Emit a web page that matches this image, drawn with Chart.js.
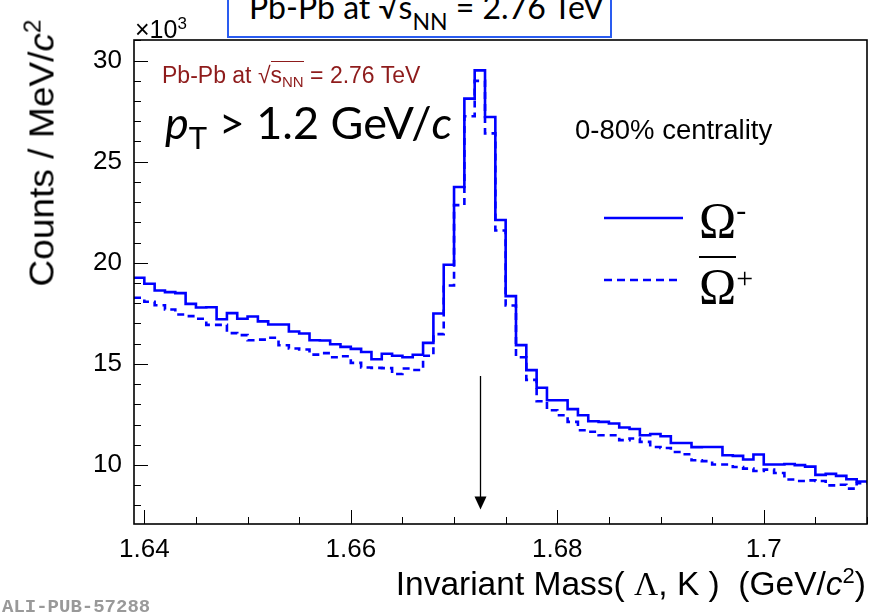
<!DOCTYPE html>
<html>
<head>
<meta charset="utf-8">
<script src="https://cdn.jsdelivr.net/npm/chart.js@4.4.1/dist/chart.umd.min.js"></script>
<style>
  body { margin: 0; background: #fff; }
  #wrap { position: relative; width: 877px; height: 612px; overflow: hidden; }
  #c { position: absolute; left: 0; top: 0; }
  .t { position: absolute; white-space: nowrap; line-height: 1; }
  .arial { font-family: "Liberation Sans", Arial, sans-serif; }
  .serif { font-family: "Liberation Serif", "Times New Roman", serif; }
  .lato { font-family: Lato, "Open Sans", sans-serif; }
</style>
</head>
<body>
<div id="wrap">
  <canvas id="c" width="877" height="612"></canvas>

  <!-- header box, cut at the top of the picture -->
  <div class="t lato" style="left:227px; top:-20px; width:381px; height:54px; border:2px solid #2a5cf0; background:#fff; overflow:hidden;">
    <span style="position:absolute; left:20px; top:9px; font-size:32px; color:#000;">Pb-Pb at √s<sub style="font-size:23px; vertical-align:-11px;">NN</sub> = 2.76 TeV</span>
  </div>

  <div class="t arial" style="left:135px; top:15px; font-size:25px;">×10<sup style="font-size:17px; vertical-align:9px;">3</sup></div>

  <div class="t arial" style="left:162px; top:64px; font-size:23px; color:#8e1b1b;">Pb-Pb at √<span style="border-top:1.5px solid #8e1b1b;">s<sub style="font-size:15px; vertical-align:-4px;">NN</sub></span> = 2.76 TeV</div>

  <div class="t lato" style="left:165px; top:100px; font-size:45px;"><i>p</i><sub style="font-size:31px; vertical-align:-10px;">T</sub> &gt; 1.2 GeV/<i>c</i></div>

  <div class="t arial" style="left:575px; top:116px; font-size:27.5px;">0-80% centrality</div>

  <!-- legend -->
  <svg class="t" style="left:600px; top:205px;" width="90" height="90">
    <line x1="4" y1="13" x2="83" y2="13" stroke="#0000ff" stroke-width="2.5"/>
    <line x1="4" y1="75" x2="77" y2="75" stroke="#0000ff" stroke-width="2.5" stroke-dasharray="8 5"/>
  </svg>
  <div class="t serif" style="left:699px; top:195px; font-size:50px;">Ω<sup style="font-size:30px; vertical-align:17px;">-</sup></div>
  <div class="t serif" style="left:699px; top:261px; font-size:50px;"><span style="border-top:2px solid #000;">Ω</span><sup style="font-size:30px; vertical-align:15px;">+</sup></div>

  <div class="t arial" style="left:40px; top:153px; font-size:35px; transform:translate(-50%,-50%) rotate(-90deg) scaleX(1.06); transform-origin:50% 50%;">Counts / MeV/<i>c</i><sup style="font-size:23px; vertical-align:13px;">2</sup></div>

  <div class="t arial" style="right:11px; top:565px; font-size:33.5px;">Invariant Mass( <span class="serif">Λ</span>, K )&nbsp; (GeV/<i>c</i><sup style="font-size:22px; vertical-align:12px;">2</sup>)</div>

  <div class="t" style="left:2px; top:598px; font-size:19px; font-weight:bold; color:#999; font-family:'Liberation Mono', 'DejaVu Sans Mono', monospace;">ALI-PUB-57288</div>
</div>

<script>
// invariant mass axis (GeV/c^2), 1 MeV bins
const massMin = 1.639;
const massMax = 1.710;
const binWidth = 0.001;

// counts per MeV/c^2, in units of 10^3
const omegaMinus = [
  19.26, 18.96, 18.63, 18.55, 18.50, 17.97, 17.79, 17.80, 17.21, 17.51,
  17.23, 17.34, 17.10, 16.95, 16.95, 16.60, 16.50, 16.17, 16.16, 15.97,
  15.84, 15.74, 15.59, 15.23, 15.50, 15.40, 15.33, 15.45, 16.04, 17.49,
  19.90, 23.75, 28.12, 29.52, 27.21, 22.12, 18.35, 15.93, 14.69, 13.82,
  13.20, 13.20, 12.76, 12.46, 12.16, 12.13, 12.05, 11.85, 11.78, 11.47,
  11.53, 11.42, 11.09, 11.09, 10.88, 10.89, 10.89, 10.48, 10.45, 10.27,
  10.52, 10.02, 10.02, 10.05, 9.99, 9.92, 9.51, 9.56, 9.46, 9.29,
  9.18
];
const omegaBarPlus = [
  18.27, 18.07, 17.90, 17.69, 17.44, 17.36, 17.23, 16.93, 16.93, 16.52,
  16.42, 16.17, 16.20, 16.29, 15.92, 15.76, 15.71, 15.46, 15.53, 15.33,
  15.38, 15.05, 14.82, 14.80, 14.79, 14.50, 14.77, 14.70, 15.40, 16.47,
  18.88, 22.85, 27.25, 29.00, 26.40, 21.60, 17.89, 15.33, 14.21, 13.15,
  12.71, 12.46, 12.13, 11.72, 11.64, 11.47, 11.47, 11.23, 11.31, 11.14,
  10.89, 10.84, 10.64, 10.53, 10.23, 10.19, 10.02, 10.02, 9.90, 9.82,
  9.70, 9.77, 9.60, 9.28, 9.21, 9.24, 9.21, 8.99, 9.02, 8.83,
  9.10
];

// axis ticks
const xTicks = [1.64, 1.66, 1.68, 1.70];
const xTickLabels = ['1.64', '1.66', '1.68', '1.7'];
const xMinorStep = 0.005;
const yMin = 7.08;
const yMax = 31.02;
const yTicks = [10, 15, 20, 25, 30];
const yTickLabels = ['10', '15', '20', '25', '30'];
const yMinorStep = 1;

// arrow marking the Omega mass
const omegaMass = 1.6725;
const arrowTop = 14.4;
const arrowTip = 7.8;

// histogram as steps: one point per lower bin edge, plus the last upper edge
function toSteps(values) {
  const pts = values.map((v, i) => ({ x: massMin + i * binWidth, y: v }));
  pts.push({ x: massMax, y: values[values.length - 1] });
  return pts;
}

const framePlugin = {
  id: 'frame',
  afterDatasetsDraw(chart) {
    const { ctx, chartArea: a, scales: { x, y } } = chart;
    ctx.save();
    ctx.strokeStyle = '#000';

    // inward ticks on the bottom and left axes
    ctx.lineWidth = 1;
    ctx.beginPath();
    for (let v = 1.64; v <= massMax + 1e-9; v += xMinorStep) {
      const px = Math.round(x.getPixelForValue(v)) + 0.5;
      const major = xTicks.some(t => Math.abs(t - v) < 1e-6);
      ctx.moveTo(px, a.bottom);
      ctx.lineTo(px, a.bottom - (major ? 14 : 7));
    }
    for (let v = 8; v <= yMax; v += yMinorStep) {
      const py = Math.round(y.getPixelForValue(v)) + 0.5;
      const major = yTicks.includes(v);
      ctx.moveTo(a.left, py);
      ctx.lineTo(a.left + (major ? 14 : 7), py);
    }
    ctx.stroke();

    // frame
    ctx.lineWidth = 1.6;
    ctx.strokeRect(a.left, a.top, a.right - a.left, a.bottom - a.top);

    // arrow
    const ax = Math.round(x.getPixelForValue(omegaMass)) + 0.5;
    const y0 = y.getPixelForValue(arrowTop);
    const y1 = y.getPixelForValue(arrowTip);
    ctx.lineWidth = 1.3;
    ctx.beginPath();
    ctx.moveTo(ax, y0);
    ctx.lineTo(ax, y1 - 12);
    ctx.stroke();
    ctx.fillStyle = '#000';
    ctx.beginPath();
    ctx.moveTo(ax - 6, y1 - 13);
    ctx.lineTo(ax + 6, y1 - 13);
    ctx.lineTo(ax, y1);
    ctx.closePath();
    ctx.fill();
    ctx.restore();
  }
};

new Chart(document.getElementById('c'), {
  type: 'line',
  data: {
    datasets: [
      {
        label: 'Omega-',
        data: toSteps(omegaMinus),
        borderColor: '#0000ff',
        borderWidth: 2.6,
        stepped: 'before',
        pointRadius: 0,
        fill: false
      },
      {
        label: 'anti-Omega+',
        data: toSteps(omegaBarPlus),
        borderColor: '#0000ff',
        borderWidth: 2.6,
        borderDash: [7, 5],
        stepped: 'before',
        pointRadius: 0,
        fill: false
      }
    ]
  },
  options: {
    responsive: false,
    animation: false,
    layout: { padding: { left: 0, top: 40, right: 10, bottom: 0 } },
    plugins: { legend: { display: false }, tooltip: { enabled: false } },
    scales: {
      x: {
        type: 'linear',
        min: massMin,
        max: massMax,
        grid: { display: false, drawTicks: false },
        border: { display: false },
        afterBuildTicks: s => { s.ticks = xTicks.map(v => ({ value: v })); },
        afterFit: s => { s.height = 88; },
        ticks: {
          padding: 10,
          color: '#000',
          font: { family: 'Liberation Sans', size: 26 },
          maxRotation: 0,
          callback: v => xTickLabels[xTicks.findIndex(t => Math.abs(t - v) < 1e-6)]
        }
      },
      y: {
        min: yMin,
        max: yMax,
        grid: { display: false, drawTicks: false },
        border: { display: false },
        afterBuildTicks: s => { s.ticks = yTicks.map(v => ({ value: v })); },
        afterFit: s => { s.width = 134; },
        ticks: {
          padding: 12,
          color: '#000',
          font: { family: 'Liberation Sans', size: 26 },
          callback: v => yTickLabels[yTicks.indexOf(v)]
        }
      }
    }
  },
  plugins: [framePlugin]
});
</script>
</body>
</html>
